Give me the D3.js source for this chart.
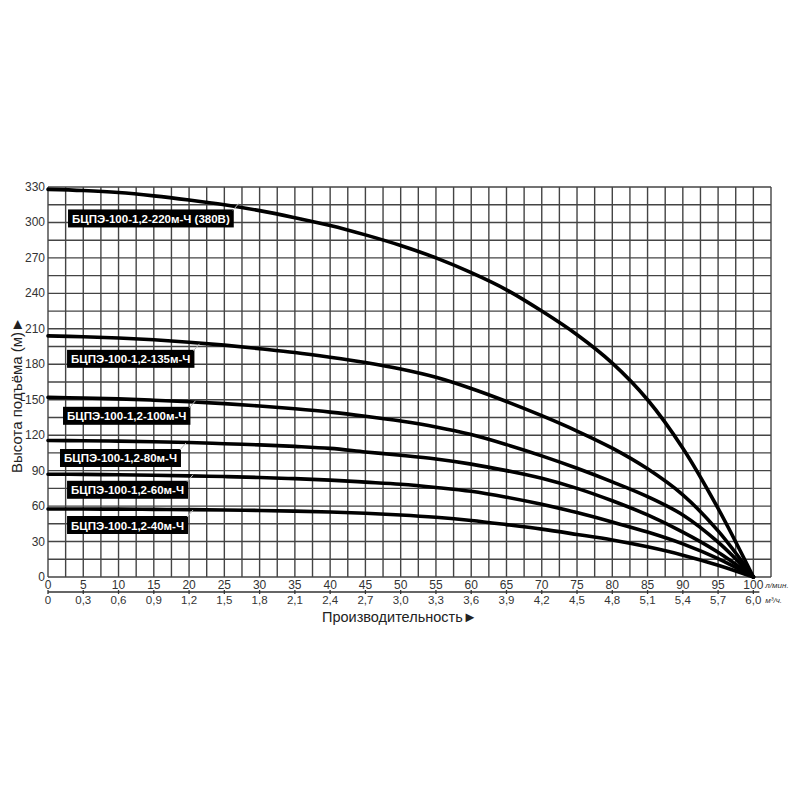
<!DOCTYPE html>
<html><head><meta charset="utf-8">
<script src="https://cdn.jsdelivr.net/npm/d3@7/dist/d3.min.js"></script>
<style>body{margin:0;background:#fff}svg{display:block}</style>
</head><body><svg id="c" width="800" height="800"></svg>
<script>
// ---- data ----
const flow = [0,5,10,15,20,25,30,35,40,45,50,55,60,65,70,75,80,85,90,95,100]; // л/мин
const head220 = [328,327,325.3,322.5,319,315,310,304,297.5,289.5,280.5,270,257.5,243,225,205,181,150,109,58,0];
const head135 = [204,203.3,202.2,200.7,198.7,196.2,193.2,190,186,181.5,176,169,159.5,148.5,136.5,123.5,109,91.5,69.5,39,0];
const head100 = [152,151.5,150.7,149.6,148.3,146.7,144.7,142.3,139.5,136,132,127,120.5,112,102.5,92,80.5,68,52.5,29.5,0];
const head80  = [115.5,115.3,115,114.5,113.8,112.8,111.8,110.5,108.8,105.8,103,99.8,95.5,90,83.5,75,64.5,52.5,38,21,0];
const head60  = [87,86.8,86.5,86.1,85.6,85,84.2,83.2,82,80.3,78.5,75.8,72.5,67.5,61.5,54.5,46.5,38,28,15.5,0];
const head40  = [57.5,57.5,57.4,57.2,57,56.7,56.3,55.7,55,54,52.5,50.5,47.8,44.3,40.5,36,31.3,25.5,18.5,10,0];
const seriesNames = ["БЦПЭ-100-1,2-220м-Ч (380В)","БЦПЭ-100-1,2-135м-Ч","БЦПЭ-100-1,2-100м-Ч","БЦПЭ-100-1,2-80м-Ч","БЦПЭ-100-1,2-60м-Ч","БЦПЭ-100-1,2-40м-Ч"];
const seriesHeads = [head220,head135,head100,head80,head60,head40];
const yTicks = [0,30,60,90,120,150,180,210,240,270,300,330];
const xTicks = [0,5,10,15,20,25,30,35,40,45,50,55,60,65,70,75,80,85,90,95,100];
const xTicks2 = ["0","0,3","0,6","0,9","1,2","1,5","1,8","2,1","2,4","2,7","3,0","3,3","3,6","3,9","4,2","4,5","4,8","5,1","5,4","5,7","6,0"];
// label anchors in data units (left flow, head at box centre)
const labelAnchor = [[2.84,303.4],[2.7,184.6],[2.13,136.4],[1.7,100.7],[2.7,73.8],[2.7,44]];

// ---- layout ----
const svg = d3.select("#c");
const L=48, R=771, T=187, B=577;
const x = d3.scaleLinear().domain([0,102.5]).range([L,R]);
const y = d3.scaleLinear().domain([0,330]).range([B,T]);
const gridCol="#444";

// grid
const g = svg.append("g");
g.selectAll("line.v").data(d3.range(0,102.5+0.01,2.5)).join("line")
  .attr("x1",d=>x(d)).attr("x2",d=>x(d)).attr("y1",T).attr("y2",B)
  .attr("stroke",gridCol).attr("stroke-width",1.4);
g.selectAll("line.h").data(d3.range(0,330+0.01,15)).join("line")
  .attr("x1",L).attr("x2",R).attr("y1",d=>y(d)).attr("y2",d=>y(d))
  .attr("stroke",gridCol).attr("stroke-width",1.4);

// curves
const line = d3.line().x(d=>x(d[0])).y(d=>y(d[1])).curve(d3.curveCatmullRom.alpha(0.5));
seriesHeads.forEach(h=>{
  svg.append("path").datum(flow.map((f,i)=>[f,h[i]]))
    .attr("d",line).attr("fill","none").attr("stroke","#000").attr("stroke-width",3.6)
    .attr("stroke-linecap","round");
});

// labels
seriesNames.forEach((name,i)=>{
  const [fx,hy]=labelAnchor[i];
  const lg = svg.append("g");
  const t = lg.append("text").text(name).attr("x",x(fx)+4).attr("y",y(hy)+4.5)
    .attr("fill","#fff").attr("font-family","Liberation Sans, Arial, sans-serif")
    .attr("font-weight","bold").attr("font-size",11.5);
  const w = t.node().getComputedTextLength();
  const bx=x(fx), by=y(hy)-9, bw=w+8, bh=18;
  lg.insert("rect","text").attr("x",bx).attr("y",by).attr("width",bw).attr("height",bh).attr("fill","#000");
  lg.append("line").attr("x1",bx+bw-1).attr("y1",by+1).attr("x2",bx+bw+5).attr("y2",by-6)
    .attr("stroke","#bbb").attr("stroke-width",1);
});

// y tick labels
const tf="Liberation Sans, Arial, sans-serif";
svg.selectAll("text.yt").data(yTicks).join("text")
  .attr("x",45).attr("y",d=>y(d)+4).attr("text-anchor","end")
  .attr("font-family",tf).attr("font-size",12).attr("fill","#333").text(d=>d);

// x axis rows
svg.selectAll("text.xt").data(xTicks).join("text")
  .attr("x",d=>x(d)).attr("y",589).attr("text-anchor","middle")
  .attr("font-family",tf).attr("font-size",12).attr("fill","#333").text(d=>d);
svg.selectAll("text.xt2").data(xTicks).join("text")
  .attr("x",d=>x(d)).attr("y",604).attr("text-anchor","middle")
  .attr("font-family",tf).attr("font-size",11.5).attr("fill","#333").text((d,i)=>xTicks2[i]);
svg.append("line").attr("x1",x(0)).attr("x2",x(100)+6).attr("y1",592).attr("y2",592)
  .attr("stroke","#333").attr("stroke-width",1.3);
svg.selectAll("line.xtk").data(xTicks).join("line")
  .attr("x1",d=>x(d)).attr("x2",d=>x(d)).attr("y1",590).attr("y2",594)
  .attr("stroke","#333").attr("stroke-width",1.3);
svg.append("text").attr("x",x(100)+12).attr("y",588).attr("font-family",tf)
  .attr("font-size",8).attr("font-style","italic").attr("fill","#333").text("л/мин.");
svg.append("text").attr("x",x(100)+12).attr("y",603).attr("font-family",tf)
  .attr("font-size",8).attr("font-style","italic").attr("fill","#333").text("м³/ч.");

// titles
svg.append("text").attr("x",322).attr("y",622).attr("font-family",tf)
  .attr("font-size",14.5).attr("fill","#222").text("Производительность►");
svg.append("text").attr("transform","translate(22,395) rotate(-90)").attr("text-anchor","middle")
  .attr("font-family",tf).attr("font-size",15).attr("fill","#222").text("Высота подъёма (м)►");
</script></body></html>
